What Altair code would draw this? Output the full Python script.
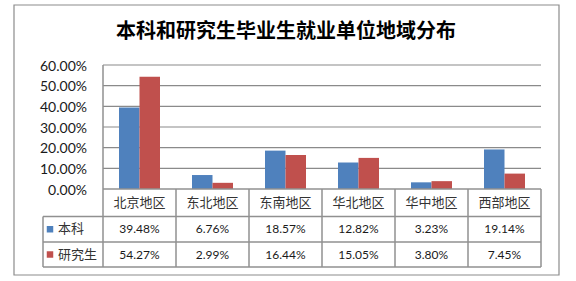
import altair as alt
import pandas as pd

# ---- data ----
categories = ["北京地区", "东北地区", "东南地区", "华北地区", "华中地区", "西部地区"]
series = ["本科", "研究生"]
undergrad = [39.48, 6.76, 18.57, 12.82, 3.23, 19.14]
graduate = [54.27, 2.99, 16.44, 15.05, 3.80, 7.45]
y_ticks = [0, 10, 20, 30, 40, 50, 60]
title_text = "本科和研究生毕业生就业单位地域分布"
colors = ["#4F81BD", "#C0504D"]

# ---- layout constants (pixels) ----
COL_PX = 73.0               # width of one category column
LEG_PX = 60.0               # width of legend column of the data table
PLOT_W = LEG_PX + 6 * COL_PX
ZERO_PX = 124.0             # from plot top (60%) to 0 line
PLOT_H = 202.0
PX_PER_UNIT = ZERO_PX / 0.6
X_MIN = -LEG_PX / COL_PX
Y_MIN = -(PLOT_H - ZERO_PX) / PX_PER_UNIT
ROW_BOUNDS_PX = [0, 27.5, 53, 78]
row_y = [-b / PX_PER_UNIT for b in ROW_BOUNDS_PX]
row_mid = [(row_y[i] + row_y[i + 1]) / 2 for i in range(3)]
BAR_W = 20.5 / COL_PX

xs = alt.Scale(domain=[X_MIN, 6], nice=False, zero=False)
ys = alt.Scale(domain=[Y_MIN, 0.6], nice=False, zero=False)

NUM_FONT = "Lato"
CJK_FONT = "Noto Sans CJK SC"
GRID_C = "#8a8a8a"
TABLE_C = "#909090"
TEXT_C = "#1a1a1a"

# ---- tables built from the arrays ----
bars = []
for i, c in enumerate(categories):
    for s, vals, off in ((series[0], undergrad, -BAR_W), (series[1], graduate, 0.0)):
        bars.append({"cat": c, "series": s, "x": i + 0.5 + off, "x2": i + 0.5 + off + BAR_W,
                     "y": vals[i] / 100, "y0": 0.0})
bars = pd.DataFrame(bars)

grid = pd.DataFrame({"y": [t / 100 for t in y_ticks if t > 0], "x": 0.0, "x2": 6.0})
ylabels = pd.DataFrame({"y": [t / 100 for t in y_ticks],
                        "t": [f"{t:.2f}%" for t in y_ticks],
                        "x": X_MIN + 44 / COL_PX})

hlines = pd.DataFrame({
    "y": row_y,
    "x": [0.0, X_MIN, X_MIN, X_MIN],
    "x2": [6.0, 6.0, 6.0, 6.0],
})
vlines = pd.DataFrame({
    "x": [X_MIN] + [float(i) for i in range(7)],
    "y": [row_y[1]] + [0.6] + [0.0] * 6,
    "y2": [row_y[3]] * 8,
})

header = pd.DataFrame({"x": [i + 0.5 for i in range(len(categories))], "y": row_mid[0], "t": categories})
cells = []
for r, vals in enumerate((undergrad, graduate)):
    for i, v in enumerate(vals):
        cells.append({"x": i + 0.5, "y": row_mid[r + 1], "t": f"{v:.2f}%"})
cells = pd.DataFrame(cells)

legend = pd.DataFrame({
    "series": series,
    "y": row_mid[1:],
    "xs": X_MIN + 7 / COL_PX,
    "xt": X_MIN + 15 / COL_PX,
})

one = pd.DataFrame({"a": [0]})

color = alt.Color("series:N", scale=alt.Scale(domain=series, range=colors), legend=None)

frame = alt.Chart(one).mark_rect(filled=False, stroke="#8c8c8c", strokeWidth=1.2).encode(
    x=alt.value(-29), x2=alt.value(516), y=alt.value(-60), y2=alt.value(210))

title = alt.Chart(one).mark_text(font=CJK_FONT, fontSize=20, fontWeight="bold", color="#000000",
                                 align="center", baseline="middle").encode(
    x=alt.value(243), y=alt.value(-33), text=alt.value(title_text))

grid_l = alt.Chart(grid).mark_rule(color=GRID_C, strokeWidth=1.2).encode(
    x=alt.X("x:Q", scale=xs, axis=None), x2="x2:Q",
    y=alt.Y("y:Q", scale=ys, axis=None))

ylab_l = alt.Chart(ylabels).mark_text(font=NUM_FONT, fontSize=14, color=TEXT_C, align="right",
                                      baseline="middle", dy=1.5).encode(
    x=alt.X("x:Q", scale=xs, axis=None), y=alt.Y("y:Q", scale=ys, axis=None), text="t:N")

bar_l = alt.Chart(bars).mark_rect().encode(
    x=alt.X("x:Q", scale=xs, axis=None), x2="x2:Q",
    y=alt.Y("y:Q", scale=ys, axis=None), y2="y0:Q",
    color=color)

h_l = alt.Chart(hlines).mark_rule(color=TABLE_C, strokeWidth=1.5).encode(
    x=alt.X("x:Q", scale=xs, axis=None), x2="x2:Q", y=alt.Y("y:Q", scale=ys, axis=None))
v_l = alt.Chart(vlines).mark_rule(color=TABLE_C, strokeWidth=1.5).encode(
    x=alt.X("x:Q", scale=xs, axis=None), y=alt.Y("y:Q", scale=ys, axis=None), y2="y2:Q")

head_l = alt.Chart(header).mark_text(font=CJK_FONT, fontSize=13, color="#333333",
                                     baseline="middle").encode(
    x=alt.X("x:Q", scale=xs, axis=None), y=alt.Y("y:Q", scale=ys, axis=None), text="t:N")
cell_l = alt.Chart(cells).mark_text(font=NUM_FONT, fontSize=12, color=TEXT_C,
                                    baseline="middle").encode(
    x=alt.X("x:Q", scale=xs, axis=None), y=alt.Y("y:Q", scale=ys, axis=None), text="t:N")
leg_sq = alt.Chart(legend).mark_square(size=42, opacity=1).encode(
    x=alt.X("xs:Q", scale=xs, axis=None), y=alt.Y("y:Q", scale=ys, axis=None), color=color)
leg_tx = alt.Chart(legend).mark_text(font=CJK_FONT, fontSize=13, color="#333333", align="left",
                                     baseline="middle").encode(
    x=alt.X("xt:Q", scale=xs, axis=None), y=alt.Y("y:Q", scale=ys, axis=None), text="series:N")

chart = alt.layer(frame, title, grid_l, ylab_l, bar_l, h_l, v_l, head_l, cell_l, leg_sq, leg_tx).properties(
    width=PLOT_W, height=PLOT_H,
    padding={"left": 43, "top": 65, "right": 576 - 43 - PLOT_W, "bottom": 281 - 65 - PLOT_H},
    autosize=alt.AutoSizeParams(type="none"),
    background="white",
).configure_view(stroke=None)

chart.save("out.html", embed_options={"renderer": "svg", "actions": False})
